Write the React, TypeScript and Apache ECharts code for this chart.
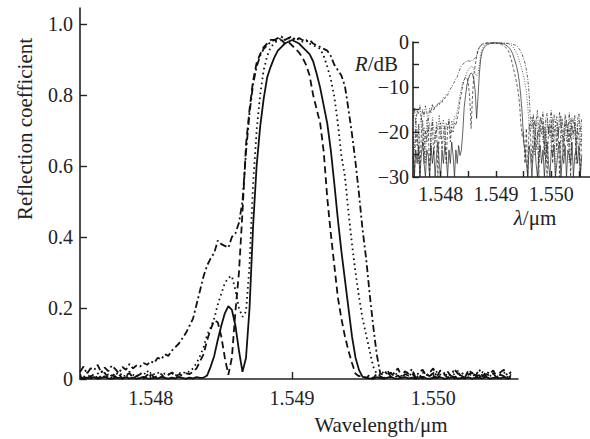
import React, { useEffect, useRef } from "react";
import * as echarts from "echarts";

// wavelength sampling (µm): value i is at WL_START + i * WL_STEP
const WL_START = 1.5475;
const WL_STEP = 0.000025;

// reflection coefficient
const solid = [
  0.003, 0.001, 0.004, 0.002, 0.005, 0.001, 0.003, 0.006, 0.002, 0.001,
  0.004, 0.003, 0.001, 0.005, 0.002, 0.004, 0.001, 0.003, 0.006, 0.002,
  0.001, 0.004, 0.002, 0.005, 0.003, 0.001, 0.004, 0.002, 0.006, 0.003,
  0.001, 0.004, 0.002, 0.005, 0.003,
  0.004, 0.01, 0.035, 0.065, 0.11, 0.15, 0.185, 0.205, 0.195, 0.15,
  0.08, 0.02, 0.06, 0.2, 0.43, 0.6, 0.71, 0.79, 0.85, 0.88,
  0.905, 0.925, 0.935, 0.945, 0.95, 0.955, 0.95, 0.945, 0.935, 0.925,
  0.915, 0.895, 0.86, 0.82, 0.77, 0.72, 0.645, 0.55, 0.45, 0.36,
  0.28, 0.2, 0.12, 0.06, 0.025, 0.006,
  0.004, 0.002, 0.001, 0.005, 0.003, 0.001, 0.004, 0.006, 0.002, 0.001,
  0.003, 0.005, 0.002, 0.004, 0.001, 0.003, 0.006, 0.002, 0.001, 0.004,
  0.003, 0.005, 0.001, 0.002, 0.004, 0.006, 0.001, 0.003, 0.002, 0.005,
  0.001, 0.004, 0.003, 0.002, 0.006, 0.001, 0.003, 0.004, 0.002, 0.005,
  0.001, 0.003,
];

const dashed = [
  0.008, 0.001, 0.012, 0.005, 0.015, 0.001, 0.009, 0.018, 0.002, 0.011,
  0.006, 0.014, 0.001, 0.01, 0.017, 0.003, 0.008, 0.013, 0.001, 0.011,
  0.016, 0.004, 0.009, 0.014, 0.002, 0.012, 0.018, 0.006, 0.013, 0.01,
  0.016, 0.014,
  0.02, 0.03, 0.05, 0.07, 0.11, 0.14, 0.165, 0.16, 0.12, 0.06,
  0.012, 0.06, 0.19, 0.3, 0.47, 0.66, 0.76, 0.84, 0.89, 0.915,
  0.935, 0.945, 0.955, 0.955, 0.95, 0.955, 0.945, 0.95, 0.94, 0.93,
  0.92, 0.905, 0.885, 0.855, 0.8, 0.76, 0.72, 0.64, 0.51, 0.41,
  0.32, 0.23, 0.17, 0.12, 0.08, 0.045, 0.015, 0.008,
  0.01, 0.002, 0.012, 0.001, 0.015, 0.008, 0.002, 0.013, 0.018, 0.004,
  0.01, 0.001, 0.014, 0.009, 0.016, 0.003, 0.011, 0.001, 0.013, 0.008,
  0.017, 0.002, 0.01, 0.014, 0.004, 0.012, 0.001, 0.015, 0.009, 0.003,
  0.013, 0.018, 0.005, 0.011, 0.001, 0.014, 0.009, 0.016, 0.002, 0.012,
  0.008, 0.001, 0.01,
];

const dotted = [
  0.012, 0.004, 0.018, 0.009, 0.002, 0.015, 0.022, 0.005, 0.013, 0.002,
  0.019, 0.01, 0.016, 0.003, 0.021, 0.012, 0.006, 0.017, 0.011, 0.024,
  0.007, 0.014, 0.019, 0.005, 0.016, 0.012, 0.02, 0.009, 0.018, 0.014,
  0.022,
  0.02, 0.03, 0.045, 0.065, 0.09, 0.125, 0.145, 0.17, 0.21, 0.24,
  0.27, 0.285, 0.29, 0.25, 0.2, 0.175, 0.19, 0.32, 0.55, 0.7,
  0.8, 0.87, 0.91, 0.935, 0.945, 0.955, 0.96, 0.955, 0.96, 0.955,
  0.96, 0.955, 0.95, 0.955, 0.945, 0.94, 0.935, 0.93, 0.91, 0.88,
  0.845, 0.795, 0.72, 0.63, 0.57, 0.47, 0.38, 0.3, 0.23, 0.17,
  0.125, 0.08, 0.035, 0.015,
  0.01, 0.022, 0.014, 0.003, 0.018, 0.011, 0.002, 0.016, 0.02, 0.006,
  0.013, 0.002, 0.019, 0.01, 0.015, 0.004, 0.021, 0.012, 0.001, 0.017,
  0.009, 0.014, 0.023, 0.003, 0.011, 0.018, 0.006, 0.015, 0.002, 0.02,
  0.012, 0.007, 0.017, 0.003, 0.013, 0.019, 0.005, 0.014,
];

const dashDot = [
  0.02, 0.035, 0.015, 0.03, 0.025, 0.04, 0.018, 0.032, 0.022, 0.038,
  0.028, 0.016, 0.034, 0.026, 0.042, 0.03, 0.038, 0.035, 0.045, 0.04,
  0.05, 0.045, 0.06, 0.055, 0.07, 0.065, 0.08, 0.09, 0.1, 0.115,
  0.13, 0.15, 0.17, 0.21, 0.25, 0.29, 0.32, 0.34, 0.355, 0.39,
  0.38, 0.375, 0.37, 0.4, 0.41, 0.44, 0.5, 0.64, 0.75, 0.83,
  0.88, 0.91, 0.93, 0.94, 0.95, 0.955, 0.96, 0.965, 0.955, 0.96,
  0.965, 0.955, 0.96, 0.955, 0.95, 0.955, 0.945, 0.94, 0.935, 0.93,
  0.925, 0.91, 0.885, 0.87, 0.855, 0.825, 0.76, 0.69, 0.61, 0.52,
  0.42, 0.34, 0.24, 0.15, 0.07, 0.015,
  0.012, 0.025, 0.006, 0.018, 0.03, 0.008, 0.022, 0.015, 0.028, 0.004,
  0.02, 0.026, 0.009, 0.018, 0.03, 0.006, 0.024, 0.016, 0.022, 0.008,
  0.028, 0.014, 0.02, 0.005, 0.025, 0.017, 0.009, 0.027, 0.007, 0.021,
  0.015, 0.024, 0.005, 0.019, 0.026, 0.01, 0.02,
];

const yTicks = [0, 0.2, 0.4, 0.6, 0.8, 1.0];
const xTicks = [1.548, 1.549, 1.55];
const insetXTicks = [1.548, 1.5485, 1.549, 1.5495, 1.55, 1.5505];
const insetXLabels = [1.548, 1.549, 1.55];
const insetYLabels = [-30, -20, -10, 0];

const SERIF = '"Liberation Serif", "DejaVu Serif", serif';
const TEXT = "#222";
const AXIS = "#222";

const wl = (i: number) => +(WL_START + i * WL_STEP).toFixed(7);
const linear = (vals: number[]) => vals.map((v, i) => [wl(i), v]);
const decibel = (vals: number[]) =>
  vals.map((v, i) => [wl(i), Math.max(-30, 10 * Math.log10(Math.max(v, 1e-6)))]);

const curves = [
  { name: "solid", values: solid, dash: "solid" as any, insetDash: "solid" as any },
  { name: "dashed", values: dashed, dash: [7, 4], insetDash: [3, 2] },
  { name: "dotted", values: dotted, dash: [1.6, 3.4], insetDash: [1, 1.6] },
  { name: "dashDot", values: dashDot, dash: [7, 3, 2, 3], insetDash: [3, 1.5, 1, 1.5] },
];

export default function App() {
  const ref = useRef<HTMLDivElement>(null);

  useEffect(() => {
    document.body.style.margin = "0";
    if (!ref.current) return;
    const chart = echarts.init(ref.current, undefined, { renderer: "svg" });

    const labelStyle = { fontFamily: SERIF, fontSize: 20, color: TEXT };
    const axisLine = { onZero: false, lineStyle: { color: AXIS, width: 1.6 } };

    const series: any[] = [];
    curves.forEach((c) => {
      series.push({
        type: "line",
        name: c.name,
        xAxisIndex: 0,
        yAxisIndex: 0,
        data: linear(c.values),
        showSymbol: false,
        symbol: "none",
        silent: true,
        lineStyle: { color: "#111", width: 1.8, type: c.dash },
      });
    });
    curves.forEach((c) => {
      series.push({
        type: "line",
        name: c.name + "-dB",
        xAxisIndex: 1,
        yAxisIndex: 1,
        data: decibel(c.values),
        showSymbol: false,
        symbol: "none",
        silent: true,
        lineStyle: { color: "#222", width: 0.7, type: c.insetDash },
      });
    });

    chart.setOption({
      animation: false,
      backgroundColor: "#fff",
      grid: [
        { left: 80, right: 72, top: 8, bottom: 60, containLabel: false, outerBoundsMode: "none" },
        { left: 413, right: 0, top: 42, bottom: 262, containLabel: false, outerBoundsMode: "none" },
      ],
      xAxis: [
        {
          type: "value",
          gridIndex: 0,
          min: 1.5475,
          max: 1.5506,
          axisLine,
          axisTick: { inside: true, length: 7, customValues: xTicks, lineStyle: { color: AXIS, width: 1.4 } },
          axisLabel: { ...labelStyle, margin: 9, customValues: xTicks, formatter: (v: number) => v.toFixed(3) },
          splitLine: { show: false },
        },
        {
          type: "value",
          gridIndex: 1,
          min: 1.5475,
          max: 1.5507,
          axisLine,
          axisTick: { inside: true, length: 6, customValues: insetXTicks, lineStyle: { color: AXIS, width: 1.4 } },
          axisLabel: { ...labelStyle, margin: 7, customValues: insetXLabels, formatter: (v: number) => v.toFixed(3) },
          splitLine: { show: false },
        },
      ],
      yAxis: [
        {
          type: "value",
          gridIndex: 0,
          min: 0,
          max: 1.045,
          axisLine,
          axisTick: { inside: true, length: 7, customValues: yTicks, lineStyle: { color: AXIS, width: 1.4 } },
          axisLabel: {
            ...labelStyle,
            margin: 7,
            customValues: yTicks,
            formatter: (v: number) => (v === 0 ? "0" : v.toFixed(1)),
          },
          splitLine: { show: false },
        },
        {
          type: "value",
          gridIndex: 1,
          min: -30,
          max: 0,
          interval: 5,
          axisLine,
          axisTick: { inside: true, length: 6, lineStyle: { color: AXIS, width: 1.4 } },
          axisLabel: {
            ...labelStyle,
            margin: 4,
            customValues: insetYLabels,
            formatter: (v: number) => (v === 0 ? "0" : "\u2212" + Math.abs(v)),
          },
          splitLine: { show: false },
        },
      ],
      graphic: [
        {
          type: "text",
          x: 25,
          y: 129,
          rotation: Math.PI / 2,
          style: {
            text: "Reflection coefficient",
            fontFamily: SERIF,
            fontSize: 21,
            fill: TEXT,
            align: "center",
            verticalAlign: "middle",
          },
        },
        {
          type: "text",
          x: 381,
          y: 425,
          style: {
            text: "Wavelength/\u03bcm",
            fontFamily: SERIF,
            fontSize: 21,
            fill: TEXT,
            align: "center",
            verticalAlign: "middle",
          },
        },
        {
          type: "text",
          x: 398,
          y: 64,
          style: {
            text: "{i|R}{n|/dB}",
            fontFamily: SERIF,
            fontSize: 21,
            fill: TEXT,
            align: "right",
            verticalAlign: "middle",
            rich: {
              i: { fontStyle: "italic", fontFamily: SERIF, fontSize: 21, fill: TEXT },
              n: { fontFamily: SERIF, fontSize: 21, fill: TEXT },
            },
          },
        },
        {
          type: "text",
          x: 535,
          y: 218,
          style: {
            text: "{i|\u03bb}{n|/\u03bcm}",
            fontFamily: SERIF,
            fontSize: 21,
            fill: TEXT,
            align: "center",
            verticalAlign: "middle",
            rich: {
              i: { fontStyle: "italic", fontFamily: SERIF, fontSize: 21, fill: TEXT },
              n: { fontFamily: SERIF, fontSize: 21, fill: TEXT },
            },
          },
        },
      ],
      series,
    });

    return () => chart.dispose();
  }, []);

  return <div ref={ref} style={{ width: 590, height: 439 }} />;
}
